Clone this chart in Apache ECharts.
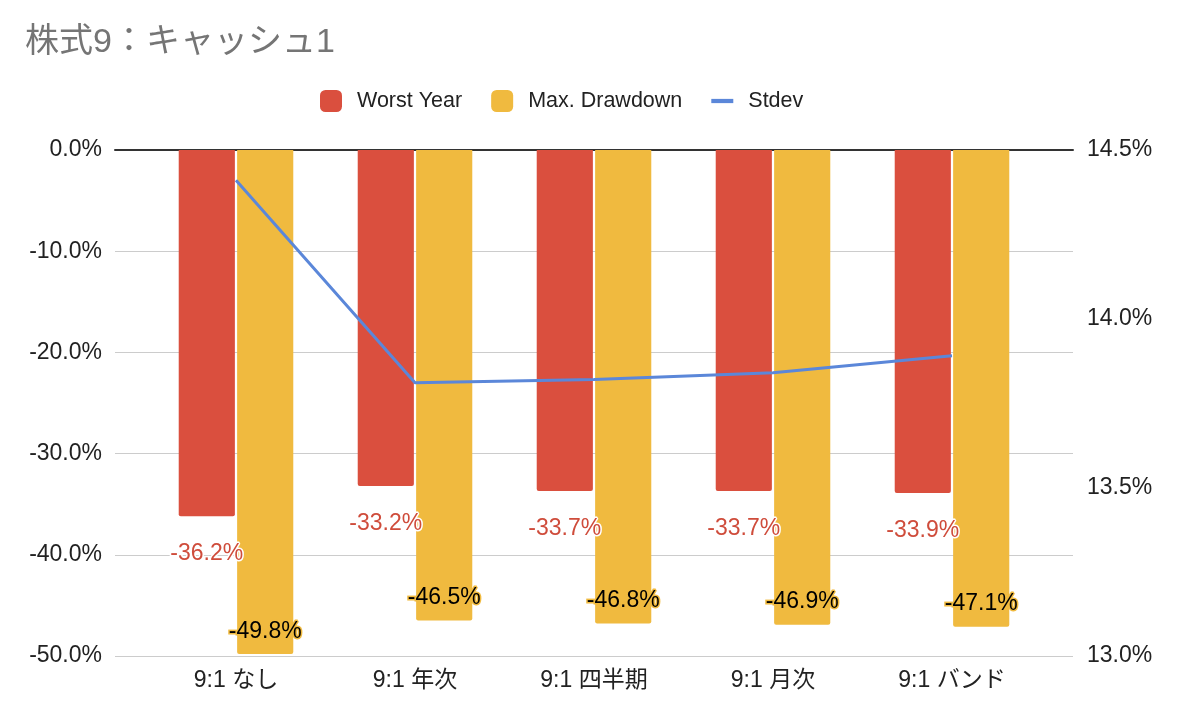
<!DOCTYPE html>
<html>
<head>
<meta charset="utf-8">
<script src="https://cdn.jsdelivr.net/npm/echarts@6/dist/echarts.min.js"></script>
<style>
html,body{margin:0;padding:0;background:#fff;}
#chart{width:1178px;height:712px;}
</style>
</head>
<body>
<div id="chart"></div>
<script>
const titleText = '株式9：キャッシュ1';
const categories = ['9:1 なし', '9:1 年次', '9:1 四半期', '9:1 月次', '9:1 バンド'];
const worstYear = [-36.2, -33.2, -33.7, -33.7, -33.9];
const maxDrawdown = [-49.8, -46.5, -46.8, -46.9, -47.1];
const stdev = [14.41, 13.81, 13.82, 13.84, 13.89];
const leftTicks = { min: -50, max: 0, interval: 10 };
const rightTicks = { min: 13, max: 14.5, interval: 0.5 };

const FONT = "'Liberation Sans', Arial, 'Noto Sans CJK JP', sans-serif";
const RED = '#da4f3e', YELLOW = '#f0ba3f', BLUE = '#5b87d9';
const pct = v => v.toFixed(1) + '%';

const chart = echarts.init(document.getElementById('chart'), null, { renderer: 'canvas' });
chart.setOption({
  animation: false,
  backgroundColor: '#fff',
  textStyle: { fontFamily: FONT },
  title: {
    text: titleText, left: 25, top: 26, padding: 0,
    textStyle: { color: '#757575', fontSize: 34, fontWeight: 'normal', fontFamily: FONT }
  },
  legend: {
    left: 320, top: 90, padding: 0, itemGap: 29,
    itemWidth: 22, itemHeight: 22,
    textStyle: { fontSize: 21.5, color: '#222', fontFamily: FONT, padding: [0, 0, 0, 10] },
    data: [
      { name: 'Worst Year', icon: 'roundRect' },
      { name: 'Max. Drawdown', icon: 'roundRect' },
      { name: 'Stdev', icon: 'path://M0,0L26,0L26,5L0,5Z', itemStyle: { color: BLUE } }
    ]
  },
  grid: [
    { left: 115, right: 105, top: 150, bottom: 56 },
    { left: 146.5, right: 136.5, top: 150, bottom: 56 }
  ],
  xAxis: [
    { gridIndex: 0, type: 'category', data: categories, position: 'top',
      axisLine: { show: true, onZero: false, lineStyle: { color: '#333', width: 2 } },
      axisTick: { show: false }, axisLabel: { show: false }, splitLine: { show: false } },
    { gridIndex: 1, type: 'category', data: categories, position: 'bottom',
      axisLine: { show: false }, axisTick: { show: false },
      axisLabel: { fontSize: 23, color: '#222', margin: 13, fontFamily: FONT } }
  ],
  yAxis: [
    { gridIndex: 0, type: 'value', position: 'left', min: leftTicks.min, max: leftTicks.max, interval: leftTicks.interval,
      axisLine: { show: false }, axisTick: { show: false },
      axisLabel: { fontSize: 23, color: '#222', margin: 13, formatter: pct, fontFamily: FONT },
      splitLine: { show: true, lineStyle: { color: '#cccccc', width: 1 } } },
    { gridIndex: 0, type: 'value', position: 'right', min: rightTicks.min, max: rightTicks.max, interval: rightTicks.interval,
      axisLine: { show: false }, axisTick: { show: false },
      axisLabel: { fontSize: 23, color: '#222', margin: 14, formatter: pct, fontFamily: FONT },
      splitLine: { show: false } },
    { gridIndex: 1, type: 'value', min: leftTicks.min, max: leftTicks.max, interval: leftTicks.interval, show: false,
      splitLine: { show: false } },
    { gridIndex: 1, type: 'value', min: rightTicks.min, max: rightTicks.max, interval: rightTicks.interval, show: false,
      splitLine: { show: false } }
  ],
  series: [
    { name: 'Worst Year', type: 'bar', xAxisIndex: 1, yAxisIndex: 2, data: worstYear,
      barCategoryGap: '36%', barGap: '4%',
      itemStyle: { color: RED, borderRadius: [0, 0, 2, 2] },
      label: { show: true, position: 'bottom', distance: 26, formatter: p => pct(p.value),
        fontSize: 23, color: '#cf4c3b', textBorderColor: '#fff', textBorderWidth: 3, fontFamily: FONT } },
    { name: 'Max. Drawdown', type: 'bar', xAxisIndex: 1, yAxisIndex: 2, data: maxDrawdown,
      itemStyle: { color: YELLOW, borderRadius: [0, 0, 2, 2] },
      label: { show: true, position: 'insideBottom', distance: 11, formatter: p => pct(p.value),
        fontSize: 23, color: '#000', textBorderColor: YELLOW, textBorderWidth: 3, fontFamily: FONT } },
    { name: 'Stdev', type: 'line', xAxisIndex: 1, yAxisIndex: 3, data: stdev,
      symbol: 'none', z: 5,
      itemStyle: { color: BLUE },
      lineStyle: { color: BLUE, width: 3 } }
  ]
});
</script>
</body>
</html>
